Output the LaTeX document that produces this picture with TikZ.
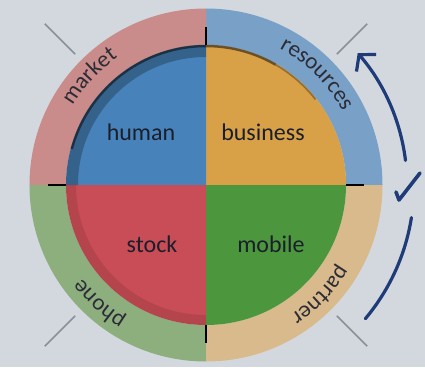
\documentclass[tikz,border=0pt]{standalone}
\usepackage{fontspec}
\setmainfont{Carlito}
\usetikzlibrary{decorations.text,arrows.meta}

\definecolor{bg}{HTML}{D3D8DF}
\definecolor{ringred}{HTML}{C98C8A}
\definecolor{ringblue}{HTML}{79A1C8}
\definecolor{ringtan}{HTML}{D8BA8D}
\definecolor{ringgreen}{HTML}{8DAF7E}
\definecolor{innerblue}{HTML}{4783BA}
\definecolor{innerorange}{HTML}{D9A147}
\definecolor{innerred}{HTML}{C94D56}
\definecolor{innergreen}{HTML}{4C973D}
\definecolor{labeltext}{HTML}{1A1F2B}
\definecolor{ringtext}{HTML}{2C2C36}
\definecolor{navy}{HTML}{1F3C78}
\definecolor{tickgrey}{HTML}{8A9099}

\newcommand\rngfont{\fontsize{23}{23}\selectfont}

\tikzset{
  quadlabel/.style={font=\fontsize{24}{24}\selectfont, text=labeltext, anchor=base, inner sep=0pt},
  ringlabel/.style={decorate, decoration={text along path, text align=center,
      text color=ringtext, text={|\rngfont|#1}}},
  guide/.style={draw=tickgrey, line width=1.5pt},
  divider/.style={draw=black, line width=2pt},
  flow/.style={draw=navy, line width=3.2pt, line cap=round, line join=round}
}

\begin{document}
\begin{tikzpicture}[x=1pt,y=1pt]
  % canvas
  \fill[bg] (-206,-182) rectangle (219,185);
  \useasboundingbox (-206,-182) rectangle (219,185);

  \def\ro{176.5}
  \def\ri{140}

  % outer ring, four sectors
  \foreach \a/\c in {0/ringblue,90/ringred,180/ringgreen,270/ringtan}{
    \pgfmathsetmacro\b{\a+90}
    \fill[\c] (\a:\ro) arc[start angle=\a, end angle=\b, radius=\ro]
      -- (\b:\ri) arc[start angle=\b, end angle=\a, radius=\ri] -- cycle;
  }

  % inner disc, four quadrants
  \foreach \a/\c in {0/innerorange,90/innerblue,180/innerred,270/innergreen}{
    \pgfmathsetmacro\b{\a+90}
    \fill[\c] (0,0) -- (\a:\ri) arc[start angle=\a, end angle=\b, radius=\ri] -- cycle;
  }

  % darker rim inside the upper-left and lower-left quadrants
  \fill[black, opacity=.25] (90:\ri) arc[start angle=90, end angle=180, radius=\ri]
    -- (180:128) arc[start angle=180, end angle=90, radius=128] -- cycle;
  \fill[black, opacity=.10] (180:\ri) arc[start angle=180, end angle=270, radius=\ri]
    -- (270:130) arc[start angle=270, end angle=180, radius=130] -- cycle;

  % shadow of the ring along the top of the disc, thinning out to the right
  \draw[black, opacity=.5, line width=2.5pt]
    (165:139) arc[start angle=165, end angle=60, radius=139];
  \draw[black, opacity=.3, line width=1.8pt]
    (60:139) arc[start angle=60, end angle=38, radius=139];

  % short dividers between the ring sectors
  \foreach \a in {0,90,180,270}
    \draw[divider] (\a:140) -- (\a:158);

  % grey guide strokes on the diagonals
  \foreach \a in {45,135,225,315}
    \draw[guide] (\a:185) -- (\a:228);

  % ring labels, set clockwise along the ring
  \path[ringlabel=market]    (167:155) arc[start angle=167, end angle=107, radius=155];
  \path[ringlabel=resources] (80:155)  arc[start angle=80,  end angle=10,  radius=155];
  \path[ringlabel=phone]     (258:155) arc[start angle=258, end angle=198, radius=155];
  \path[ringlabel=partner]   (-14:155) arc[start angle=-14, end angle=-74, radius=155];

  % quadrant labels
  \node[quadlabel] (human)    at (-65,45)  {human};
  \node[quadlabel] (business) at (57,45)   {business};
  \node[quadlabel] (stock)    at (-54,-67) {stock};
  \node[quadlabel] (mobile)   at (65,-67)  {mobile};

  % rotation arrows and check mark on the right
  \coordinate (upS) at (7:201);
  \draw[flow, -{Straight Barb[length=11pt, width=26pt]}]
    (upS) arc[start angle=7, end angle=41, radius=201];
  \coordinate (loS) at (-9:208);
  \draw[flow] (loS) arc[start angle=-9, end angle=-40, radius=208];
  \coordinate (ck1) at (190,-7);
  \coordinate (ck2) at (193,-15);
  \coordinate (ck3) at (214,12);
  \draw[flow, line width=3.6pt] (ck1) -- (ck2) -- (ck3);
\end{tikzpicture}
\end{document}
